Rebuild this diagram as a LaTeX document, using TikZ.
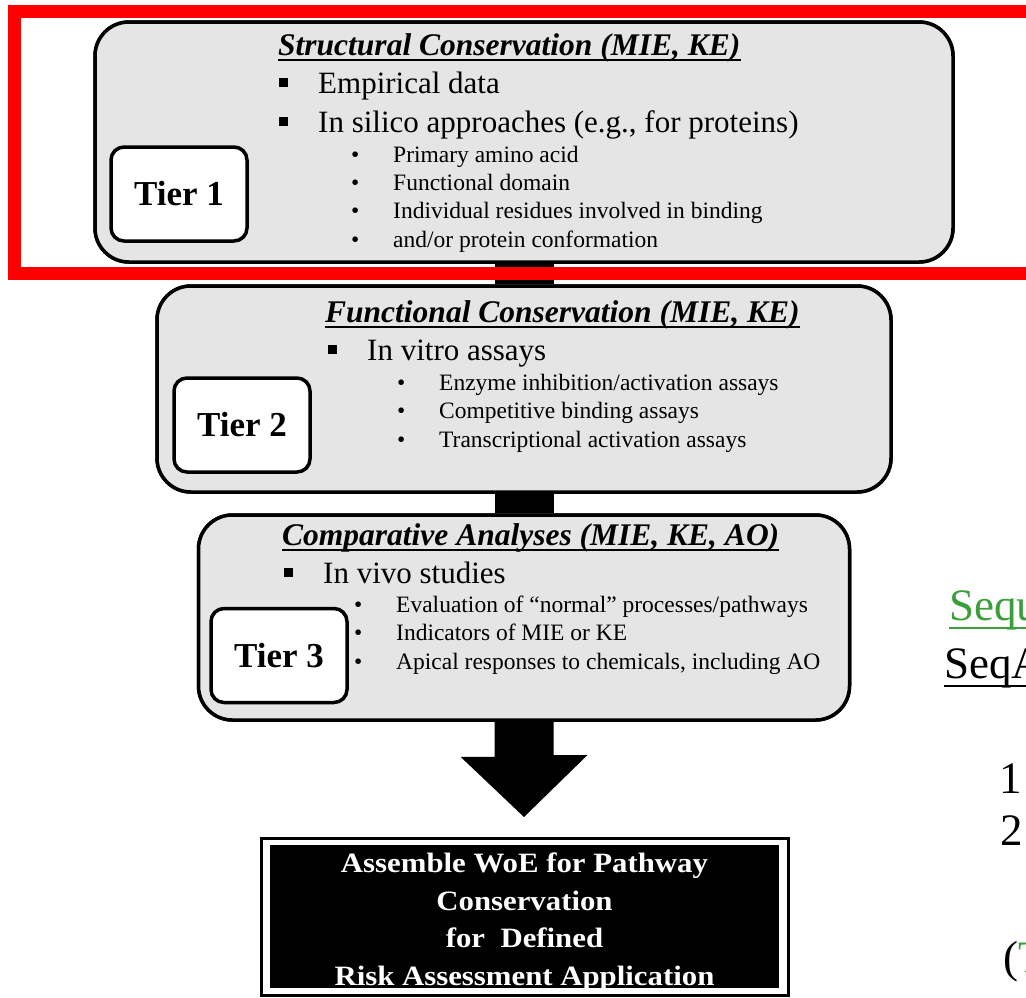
\documentclass[tikz,border=0pt]{standalone}
\usepackage{fontspec}
\setmainfont{Liberation Serif}
\newfontfamily\widebf[FakeStretch=1.1]{Liberation Serif}

\definecolor{panelgray}{RGB}{229,229,229}
\definecolor{alertred}{RGB}{255,0,0}
\definecolor{linkgreen}{RGB}{58,158,58}

% square bullet for first-level items, round bullet for second-level items
\newcommand\sqitem[1]{\makebox[39pt][l]{\rule[6.5pt]{9pt}{9pt}}#1}
\newcommand\rditem[1]{\makebox[42pt][l]{\textbullet}#1}

\tikzset{
  tierpanel/.style={draw=black, line width=3.5pt, fill=panelgray,
    rounded corners=34pt, inner sep=0pt},
  tierbox/.style={draw=black, line width=3.5pt, fill=white,
    rounded corners=13pt, inner sep=0pt, minimum width=136pt,
    minimum height=94pt, font=\fontsize{35}{40}\selectfont\bfseries},
  heading/.style={anchor=base west, inner sep=0pt,
    font=\fontsize{31.5}{36}\selectfont\bfseries\itshape},
  headrule/.style={line width=2pt},
  item/.style={anchor=base west, inner sep=0pt,
    font=\fontsize{31}{36}\selectfont},
  subitem/.style={anchor=base west, inner sep=0pt,
    font=\fontsize{23.5}{28}\selectfont},
  stem/.style={line width=59pt},
  fragment/.style={anchor=base west, inner sep=0pt,
    font=\fontsize{45}{54}\selectfont},
}

\begin{document}
\begin{tikzpicture}[x=1pt, y=-1pt]
\useasboundingbox (0,0) rectangle (1026,997);
\clip (0,0) rectangle (1026,997);

% ---- tier panels -------------------------------------------------------
\node[tierpanel, minimum width=858pt, minimum height=240pt] (p1) at (524,142) {};
\node[tierpanel, minimum width=734pt, minimum height=206pt] (p2) at (524,389) {};
\node[tierpanel, minimum width=651pt, minimum height=205pt] (p3) at (524,617.5) {};

% connecting stems between the panels
\draw[stem] (p1.south) -- (p2.north);
\draw[stem] (p2.south) -- (p3.north);

% block arrow towards the result box
\coordinate (tip) at (524,817);
\fill (p3.south) ++(-29.5,0) -- ++(0,35) -- ++(-34,0) -- (tip)
      -- ++(63.5,-62) -- ++(-34,0) -- ++(0,-35) -- cycle;

% redraw panels on top of the stems
\node[tierpanel, minimum width=858pt, minimum height=240pt] at (524,142) {};
\node[tierpanel, minimum width=734pt, minimum height=206pt] at (524,389) {};
\node[tierpanel, minimum width=651pt, minimum height=205pt] at (524,617.5) {};

% ---- tier labels ---------------------------------------------------------
\node[tierbox] (tier1) at (179,194) {Tier 1};
\node[tierbox] (tier2) at (242,425) {Tier 2};
\node[tierbox] (tier3) at (279,655.5) {Tier 3};

% ---- Tier 1 content ------------------------------------------------------
\node[heading] (h1) at (278,55) {Structural Conservation (MIE, KE)};
\draw[headrule] ([yshift=-4.5pt]h1.base west) -- ([yshift=-4.5pt]h1.base east);
\node[item] (a1) at (279,93)  {\sqitem{Empirical data}};
\node[item] (a2) at (279,132) {\sqitem{In silico approaches (e.g., for proteins)}};
\node[subitem] (a3) at (351,162) {\rditem{Primary amino acid}};
\node[subitem] (a4) at (351,190) {\rditem{Functional domain}};
\node[subitem] (a5) at (351,218) {\rditem{Individual residues involved in binding}};
\node[subitem] (a6) at (351,247) {\rditem{and/or protein conformation}};

% ---- Tier 2 content ------------------------------------------------------
\node[heading] (h2) at (325,322) {Functional Conservation (MIE, KE)};
\draw[headrule] ([yshift=-4.5pt]h2.base west) -- ([yshift=-4.5pt]h2.base east);
\node[item] (b1) at (328,360) {\sqitem{In vitro assays}};
\node[subitem] (b2) at (397,390) {\rditem{Enzyme inhibition/activation assays}};
\node[subitem] (b3) at (397,418) {\rditem{Competitive binding assays}};
\node[subitem] (b4) at (397,447) {\rditem{Transcriptional activation assays}};

% ---- Tier 3 content ------------------------------------------------------
\node[heading] (h3) at (282,545) {Comparative Analyses (MIE, KE, AO)};
\draw[headrule] ([yshift=-4.5pt]h3.base west) -- ([yshift=-4.5pt]h3.base east);
\node[item] (c1) at (284,583) {\sqitem{In vivo studies}};
\node[subitem] (c2) at (354,612) {\rditem{Evaluation of “normal” processes/pathways}};
\node[subitem] (c3) at (354,640) {\rditem{Indicators of MIE or KE}};
\node[subitem] (c4) at (354,669) {\rditem{Apical responses to chemicals, including AO}};

% ---- result box ----------------------------------------------------------
\node[draw=black, line width=3pt, fill=white, minimum width=527pt,
      minimum height=157pt, inner sep=0pt] (frame) at (524.5,916.5) {};
\node[fill=black, minimum width=509pt, minimum height=143pt,
      inner sep=0pt] (woe) at (frame.center) {};
\node[text=white, align=center, inner sep=0pt,
      font=\fontsize{28}{37.7}\selectfont\widebf\bfseries] (woetext)
      at ([yshift=-5.5pt]woe.center)
      {Assemble WoE for Pathway\\Conservation\\for\ \ Defined\\Risk Assessment Application};

% ---- text continuing at the right edge -----------------------------------
\node[fragment, text=linkgreen] (sequ) at (949,620) {Sequ};
\draw[linkgreen, line width=2.5pt] ([yshift=-8pt]sequ.base west) -- ([yshift=-8pt]sequ.base east);
\node[fragment] (seqa) at (944,678) {SeqA};
\draw[black, line width=2.5pt] ([yshift=-8pt]seqa.base west) -- ([yshift=-8pt]seqa.base east);
\node[fragment] (n1) at (999,793) {1};
\node[fragment] (n2) at (1000,845) {2};
\node[fragment] (par) at (1003,972) {(\textcolor{linkgreen}{T}};

% ---- highlight frame around Tier 1 --------------------------------------
\draw[alertred, line width=13pt] (14.5,11.5) rectangle (1050,273.5);
\end{tikzpicture}
\end{document}
